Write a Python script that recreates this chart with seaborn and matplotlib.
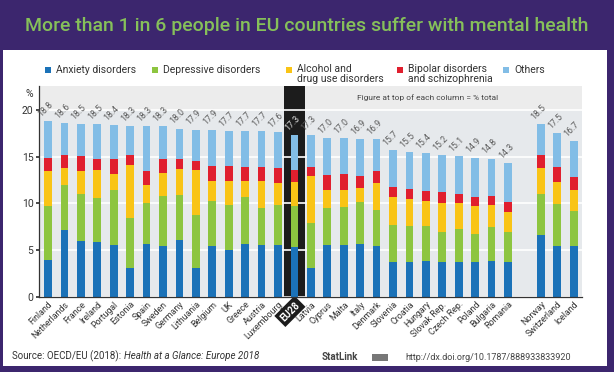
import matplotlib
matplotlib.use("Agg")
import matplotlib.pyplot as plt
from matplotlib.patches import Rectangle
import numpy as np
import pandas as pd
import seaborn as sns

countries = ["Finland", "Netherlands", "France", "Ireland", "Portugal", "Estonia", "Spain",
             "Sweden", "Germany", "Lithuania", "Belgium", "UK", "Greece", "Austria",
             "Luxembourg", "EU28", "Latvia", "Cyprus", "Malta", "Italy", "Denmark",
             "Slovenia", "Croatia", "Hungary", "Slovak Rep.", "Czech Rep.", "Poland",
             "Bulgaria", "Romania", "Norway", "Switzerland", "Iceland"]
anxiety = [4.0, 7.2, 6.0, 5.9, 5.6, 3.1, 5.7, 5.4, 6.1, 3.1, 5.4, 5.0, 5.7, 5.6, 5.6, 5.3,
           3.1, 5.6, 5.6, 5.7, 5.5, 3.7, 3.7, 3.8, 3.7, 3.7, 3.7, 3.8, 3.7, 6.6, 5.5, 5.4]
depressive = [5.7, 4.8, 5.0, 4.7, 5.8, 5.3, 4.3, 5.4, 4.8, 5.7, 4.9, 4.8, 5.0, 3.9, 4.2, 4.4,
              4.8, 3.9, 4.0, 4.5, 3.8, 4.0, 3.9, 3.8, 3.2, 3.6, 3.0, 3.7, 3.2, 4.4, 4.4, 3.8]
alcohol = [3.8, 1.8, 2.5, 3.0, 1.8, 5.7, 2.0, 2.5, 2.8, 4.8, 2.1, 2.6, 1.7, 2.9, 2.4, 2.6,
           5.0, 1.9, 1.8, 1.4, 2.9, 3.0, 2.9, 2.7, 3.2, 2.7, 3.0, 2.3, 2.2, 2.8, 2.4, 2.2]
bipolar = [1.4, 1.4, 1.6, 1.2, 1.5, 1.1, 1.5, 1.4, 1.1, 0.9, 1.6, 1.6, 1.5, 1.5, 1.6, 1.3,
           1.0, 1.6, 1.7, 1.3, 1.3, 1.1, 1.0, 1.0, 1.1, 1.0, 1.0, 1.0, 1.1, 1.4, 1.6, 1.4]
others = [3.9, 3.4, 3.4, 3.7, 3.7, 3.1, 4.8, 3.6, 3.2, 3.4, 3.9, 3.7, 3.8, 3.8, 3.8, 3.7,
          3.4, 4.0, 3.9, 4.0, 3.4, 3.9, 4.0, 4.1, 4.0, 4.1, 4.2, 4.0, 4.1, 3.3, 3.6, 3.9]
totals = ["18.8", "18.6", "18.5", "18.5", "18.4", "18.3", "18.3", "18.3", "18.0", "17.9",
          "17.9", "17.7", "17.7", "17.7", "17.6", "17.3", "17.3", "17.0", "17.0", "16.9",
          "16.9", "15.7", "15.5", "15.4", "15.2", "15.1", "14.9", "14.8", "14.3", "18.5",
          "17.5", "16.7"]

series = ["Anxiety disorders", "Depressive disorders", "Alcohol and\ndrug use disorders",
          "Bipolar disorders\nand schizophrenia", "Others"]
colors = ["#1b72b8", "#8dc540", "#f9c416", "#e01f2e", "#82bde6"]

PURPLE = "#3c266e"
TITLE_GREEN = "#86c05a"

sns.set_theme(style="white")
plt.rcParams["font.family"] = ["Roboto", "DejaVu Sans"]

df = pd.DataFrame({"country": countries, "anxiety": anxiety, "depressive": depressive,
                   "alcohol": alcohol, "bipolar": bipolar, "others": others})
layers = np.cumsum(df[["anxiety", "depressive", "alcohol", "bipolar", "others"]].to_numpy(), axis=1)
order = countries[:29] + [" "] + countries[29:]

fig = plt.figure(figsize=(6.14, 3.72), dpi=100, facecolor=PURPLE)
W, H = 614, 372
fig.patches.append(Rectangle((3 / W, 6 / H), 604 / W, 316 / H, transform=fig.transFigure,
                             facecolor="white", edgecolor="none", zorder=-5))
fig.text(0.5, 1 - 26 / H, "More than 1 in 6 people in EU countries suffer with mental health",
         ha="center", va="center", color=TITLE_GREEN, fontsize=14, fontweight="medium")

ax = fig.add_axes([39 / W, 1 - 297 / H, 543 / W, 210.5 / H])
ax.set_facecolor("#e6e9ec")
ax.axhspan(20, 23, color="#ececec", zorder=0.2, lw=0)
eu = order.index("EU28")
ax.axvspan(eu - 0.65, eu + 0.65, color="#1c1c1c", zorder=0.3, lw=0)

# stacked bars: draw cumulative totals from top layer down
for k in range(4, -1, -1):
    sns.barplot(x=df["country"], y=layers[:, k], order=order, color=colors[k], width=0.47,
                saturation=1, linewidth=0, ax=ax, zorder=2)

ax.set_ylim(0, 22.5)
ax.set_xlim(-0.55, len(order) - 0.5)
ax.set_yticks([0, 5, 10, 15, 20])
ax.yaxis.grid(True, color="white", lw=1.2, zorder=0.5)
ax.set_axisbelow(True)
for s in ["top", "right"]:
    ax.spines[s].set_visible(False)
for s in ["left", "bottom"]:
    ax.spines[s].set_color("#333333")
    ax.spines[s].set_linewidth(0.9)
ax.tick_params(axis="y", labelsize=7.5, colors="#333333", length=2, pad=2, left=True)
ax.tick_params(axis="x", length=0, pad=2)
ax.set_xlabel("")
ax.set_ylabel("")
ax.set_xticks(range(len(order)))
ax.set_xticklabels(order, rotation=45, ha="right", rotation_mode="anchor", fontsize=6.4,
                   color="#333333")
for lab in ax.get_xticklabels():
    if lab.get_text() == "EU28":
        lab.set_color("white")
        lab.set_fontweight("bold")
        lab.set_fontsize(7)
        lab.set_bbox(dict(facecolor="#1c1c1c", edgecolor="none", pad=2))

for i, c in enumerate(countries):
    pos = order.index(c)
    top = layers[i, 4]
    ax.text(pos - 0.3, top + 0.3, totals[i], rotation=45, ha="left", va="bottom",
            rotation_mode="anchor", fontsize=6.3,
            color="#dddddd" if c == "EU28" else "#5a5a5a")

ax.text(0.715, 21.3, "Figure at top of each column = % total", transform=ax.get_yaxis_transform(),
        ha="center", va="center", fontsize=6, color="#444444")
fig.text(29 / W, 1 - 94 / H, "%", ha="center", va="center", fontsize=7.5, color="#333333")

# legend row, placed item by item like the original
legend_x = [45, 152, 286, 397, 503]
for x, name, col in zip(legend_x, series, colors):
    fig.patches.append(Rectangle((x / W, 1 - 73 / H), 6 / W, 6 / H, transform=fig.transFigure,
                                 facecolor=col, edgecolor="none"))
    two_lines = "\n" in name
    fig.text((x + 11) / W, 1 - (64 if two_lines else 70) / H, name, fontsize=7.5,
             color="#333333", va="top" if two_lines else "center", linespacing=1.0)

# source and statlink footers
r = fig.canvas.get_renderer()
t1 = fig.text(12 / W, 1 - 356 / H, "Source: OECD/EU (2018): ", fontsize=7, color="#333333",
              va="center")
bb = t1.get_window_extent(r)
fig.text(bb.x1 / W, 1 - 356 / H, "Health at a Glance: Europe 2018", fontsize=7,
         style="italic", color="#333333", va="center")
fig.text(322 / W, 1 - 357 / H, "StatLink", fontsize=7, fontweight="bold", color="#444444",
         va="center")
fig.patches.append(Rectangle((372 / W, 1 - 361 / H), 16 / W, 7 / H, transform=fig.transFigure,
                             facecolor="#777777", edgecolor="none"))
fig.text(405 / W, 1 - 357 / H, "http://dx.doi.org/10.1787/888933833920", fontsize=6.5,
         color="#444444", va="center")

fig.savefig("out.png", dpi=100, facecolor=PURPLE)
